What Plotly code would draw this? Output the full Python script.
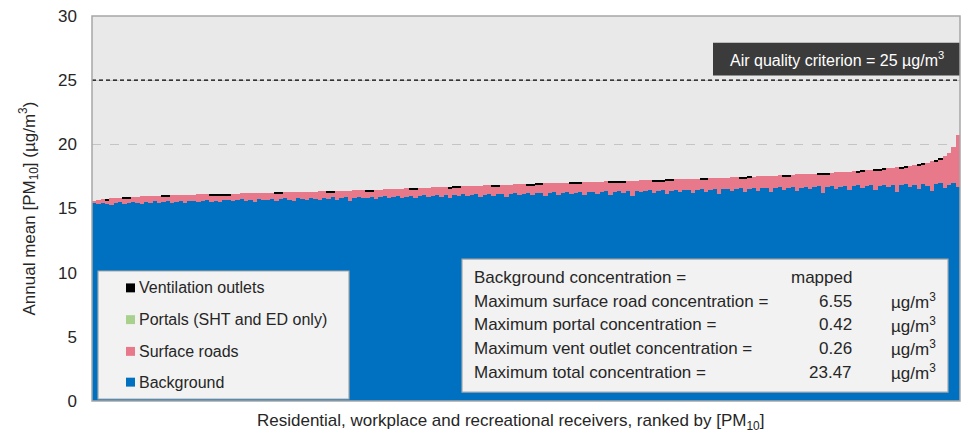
import plotly.graph_objects as go

# Ranked annual mean PM10 at each receiver (µg/m3), lowest to highest
total_pm10 = [
    15.62, 15.67, 15.72, 15.76, 15.79, 15.82, 15.85, 15.87, 15.89, 15.91,
    15.92, 15.94, 15.95, 15.97, 15.98, 15.99, 16.00, 16.01, 16.02, 16.03,
    16.04, 16.05, 16.07, 16.08, 16.10, 16.10, 16.11, 16.12, 16.13, 16.13,
    16.14, 16.15, 16.16, 16.16, 16.17, 16.18, 16.19, 16.19, 16.20, 16.21,
    16.22, 16.23, 16.24, 16.25, 16.25, 16.26, 16.27, 16.28, 16.29, 16.30,
    16.31, 16.32, 16.33, 16.34, 16.35, 16.36, 16.37, 16.38, 16.39, 16.40,
    16.41, 16.42, 16.43, 16.44, 16.45, 16.47, 16.48, 16.49, 16.51, 16.52,
    16.53, 16.55, 16.56, 16.57, 16.59, 16.60, 16.61, 16.62, 16.64, 16.65,
    16.66, 16.68, 16.69, 16.70, 16.72, 16.73, 16.74, 16.76, 16.77, 16.78,
    16.80, 16.81, 16.82, 16.84, 16.85, 16.86, 16.87, 16.88, 16.90, 16.91,
    16.92, 16.93, 16.94, 16.95, 16.96, 16.98, 16.99, 17.00, 17.01, 17.02,
    17.03, 17.04, 17.05, 17.06, 17.07, 17.08, 17.09, 17.10, 17.11, 17.12,
    17.13, 17.14, 17.15, 17.16, 17.17, 17.18, 17.19, 17.20, 17.21, 17.22,
    17.23, 17.24, 17.25, 17.26, 17.27, 17.28, 17.29, 17.30, 17.31, 17.32,
    17.33, 17.35, 17.36, 17.37, 17.39, 17.40, 17.41, 17.43, 17.44, 17.45,
    17.47, 17.48, 17.49, 17.51, 17.52, 17.54, 17.55, 17.57, 17.58, 17.60,
    17.61, 17.63, 17.65, 17.66, 17.68, 17.70, 17.72, 17.74, 17.76, 17.78,
    17.80, 17.82, 17.84, 17.86, 17.88, 17.90, 17.93, 17.95, 17.98, 18.01,
    18.04, 18.07, 18.10, 18.13, 18.16, 18.20, 18.24, 18.28, 18.33, 18.38,
    18.44, 18.50, 18.58, 18.67, 18.78, 18.92, 19.10, 19.35, 19.80, 20.70,
]

# Mapped background contribution at each receiver
background = [
    15.40, 15.35, 15.45, 15.38, 15.30, 15.42, 15.47, 15.36, 15.44, 15.50,
    15.41, 15.33, 15.52, 15.46, 15.55, 15.39, 15.48, 15.58, 15.45, 15.51,
    15.60, 15.43, 15.56, 15.62, 15.49, 15.57, 15.66, 15.52, 15.61, 15.47,
    15.64, 15.70, 15.55, 15.63, 15.72, 15.58, 15.67, 15.50, 15.74, 15.65,
    15.69, 15.76, 15.60, 15.71, 15.78, 15.66, 15.58, 15.80, 15.73, 15.68,
    15.82, 15.75, 15.64, 15.84, 15.77, 15.88, 15.70, 15.81, 15.86, 15.62,
    15.85, 15.90, 15.78, 15.83, 15.92, 15.74, 15.88, 15.95, 15.80, 15.91,
    15.97, 15.84, 15.93, 16.00, 15.79, 15.96, 16.02, 15.88, 15.99, 16.05,
    15.90, 16.03, 15.85, 16.07, 15.98, 16.10, 15.94, 16.06, 16.12, 15.89,
    16.08, 16.14, 15.97, 16.11, 16.16, 15.92, 16.13, 16.18, 16.02, 16.15,
    16.20, 16.05, 16.17, 16.22, 15.96, 16.19, 16.25, 16.08, 16.21, 16.27,
    16.10, 16.23, 16.30, 16.04, 16.26, 16.32, 16.14, 16.28, 16.35, 16.07,
    16.30, 16.37, 16.18, 16.33, 15.98, 16.39, 16.25, 16.35, 16.42, 16.20,
    16.38, 16.44, 16.12, 16.40, 16.46, 16.28, 16.43, 16.48, 16.22, 16.45,
    16.50, 16.32, 16.47, 16.53, 16.15, 16.49, 16.55, 16.36, 16.52, 16.58,
    16.30, 16.54, 16.60, 16.40, 16.56, 16.62, 16.25, 16.58, 16.64, 16.45,
    16.60, 16.67, 16.35, 16.62, 16.70, 16.50, 16.65, 16.72, 16.20, 16.68,
    16.75, 16.55, 16.70, 16.78, 16.42, 16.73, 16.80, 16.60, 16.76, 16.83,
    16.48, 16.78, 16.86, 16.65, 16.81, 16.30, 16.84, 16.90, 16.70, 16.87,
    16.55, 16.92, 16.75, 16.40, 16.88, 16.95, 16.60, 16.85, 16.98, 16.70,
]

# Ventilation outlet contribution
vent_outlets = [
    0, 0, 0, 0.10, 0, 0, 0, 0.10, 0.10, 0,
    0, 0, 0, 0, 0, 0, 0.10, 0.10, 0, 0,
    0, 0, 0, 0, 0, 0, 0, 0.10, 0.10, 0.10,
    0.10, 0.10, 0, 0, 0, 0, 0, 0, 0, 0,
    0, 0, 0.10, 0.10, 0, 0, 0, 0, 0, 0,
    0, 0, 0, 0, 0.10, 0.10, 0, 0, 0, 0,
    0, 0, 0, 0.10, 0.10, 0, 0, 0, 0, 0,
    0, 0, 0, 0.10, 0.10, 0, 0, 0, 0, 0,
    0, 0, 0.10, 0.10, 0.10, 0, 0, 0, 0, 0,
    0, 0, 0.10, 0.10, 0, 0, 0, 0, 0, 0,
    0.10, 0.10, 0.10, 0.10, 0, 0, 0, 0, 0, 0,
    0.10, 0.10, 0.10, 0, 0, 0, 0, 0, 0, 0.10,
    0.10, 0.10, 0.10, 0, 0, 0, 0, 0, 0, 0.10,
    0.10, 0.10, 0.10, 0.10, 0, 0, 0, 0, 0, 0,
    0.10, 0.10, 0, 0, 0, 0, 0, 0, 0, 0.10,
    0.10, 0.10, 0, 0, 0, 0, 0, 0, 0, 0.10,
    0.10, 0, 0, 0, 0, 0, 0, 0.10, 0.10, 0.10,
    0, 0, 0, 0, 0, 0, 0.10, 0.10, 0, 0,
    0.10, 0.10, 0.10, 0, 0, 0, 0.10, 0.10, 0, 0,
    0.10, 0.10, 0, 0, 0.10, 0.10, 0, 0, 0, 0,
]

# Tunnel portal contribution (SHT and ED only)
portals = [
    0, 0, 0, 0, 0, 0, 0, 0, 0, 0,
    0, 0, 0, 0, 0, 0, 0, 0, 0, 0,
    0, 0, 0, 0, 0, 0, 0, 0, 0, 0,
    0, 0, 0, 0, 0, 0, 0, 0, 0, 0,
    0, 0, 0, 0, 0, 0, 0, 0, 0, 0,
    0, 0, 0, 0, 0, 0, 0, 0, 0, 0,
    0, 0, 0, 0, 0, 0, 0, 0, 0, 0,
    0, 0, 0, 0, 0, 0, 0, 0, 0, 0,
    0, 0, 0, 0, 0, 0, 0, 0, 0, 0,
    0, 0, 0, 0, 0, 0, 0, 0, 0, 0,
    0, 0, 0, 0, 0, 0, 0, 0, 0, 0,
    0, 0, 0, 0, 0, 0, 0, 0, 0, 0,
    0, 0, 0, 0, 0, 0, 0, 0, 0, 0,
    0, 0, 0, 0, 0, 0, 0, 0, 0, 0,
    0, 0, 0, 0, 0, 0, 0, 0, 0, 0,
    0, 0, 0, 0, 0, 0, 0, 0, 0, 0,
    0, 0, 0, 0, 0, 0, 0, 0, 0, 0,
    0, 0, 0, 0, 0, 0, 0, 0, 0, 0,
    0, 0, 0, 0, 0, 0, 0, 0, 0, 0,
    0, 0, 0, 0, 0, 0, 0, 0, 0, 0,
]

criterion = 25

legend_labels = ["Ventilation outlets", "Portals (SHT and ED only)", "Surface roads", "Background"]

stats_labels = [
    "Background concentration =",
    "Maximum surface road concentration =",
    "Maximum portal concentration =",
    "Maximum vent outlet concentration =",
    "Maximum total concentration =",
]
stats_values = ["mapped", "6.55", "0.42", "0.26", "23.47"]
stats_units = ["", "µg/m<sup>3</sup>", "µg/m<sup>3</sup>", "µg/m<sup>3</sup>", "µg/m<sup>3</sup>"]

# Surface road share is the remainder of each receiver's total
surface_roads = [round(t - b - p - v, 3)
                 for t, b, p, v in zip(total_pm10, background, portals, vent_outlets)]
receivers = list(range(1, len(total_pm10) + 1))

BLUE = "#0070c0"
PINK = "#e8798b"
GREEN = "#a9d18e"
BLACK = "#000000"
FONT = "Arial, Liberation Sans, sans-serif"
TXT = "#262626"

W, H = 967, 439
L, R, T, B = 92, 7, 13, 38
PW, PH = W - L - R, H - T - B


def px(xpix):
    return (xpix - L) / PW


def py(ypix):
    return (H - B - ypix) / PH


fig = go.Figure()
for name, vals, col in [
    ("Background", background, BLUE),
    ("Portals (SHT and ED only)", portals, GREEN),
    ("Surface roads", surface_roads, PINK),
    ("Ventilation outlets", vent_outlets, BLACK),
]:
    fig.add_trace(go.Bar(x=receivers, y=vals, name=name, marker=dict(color=col, line=dict(width=0)),
                         showlegend=False))

shapes = []
annotations = []

# Air quality criterion line and its label
shapes.append(dict(type="line", xref="paper", yref="y", x0=0, x1=1, y0=criterion, y1=criterion,
                   line=dict(color="#000000", width=1.3, dash="4px,3px"), layer="above"))
shapes.append(dict(type="rect", xref="paper", yref="paper", x0=px(713), x1=1, y0=py(73), y1=py(40),
                   fillcolor="#3b3b3b", line=dict(width=0), layer="above"))
annotations.append(dict(xref="paper", yref="paper", x=(px(713) + 1) / 2, y=py(56.5),
                        text=f"Air quality criterion = {criterion} µg/m<sup>3</sup>",
                        showarrow=False, font=dict(family=FONT, size=16, color="#ffffff"),
                        xanchor="center", yanchor="middle"))

# Plot-area border
shapes.append(dict(type="rect", xref="paper", yref="paper", x0=0, x1=1, y0=0, y1=1,
                   line=dict(color="#a6a6a6", width=1.5), layer="above"))

# Legend box
shapes.append(dict(type="rect", xref="paper", yref="paper", x0=px(98), x1=px(349), y0=py(399), y1=py(270),
                   fillcolor="#f2f2f2", line=dict(color="#a6a6a6", width=1.2), layer="above"))
legend_colors = [BLACK, GREEN, PINK, BLUE]
legend_rows = [287, 319, 351, 382]
for lab, col, yr in zip(legend_labels, legend_colors, legend_rows):
    shapes.append(dict(type="rect", xref="paper", yref="paper", x0=px(126), x1=px(135),
                       y0=py(yr + 4.5), y1=py(yr - 4.5), fillcolor=col, line=dict(width=0), layer="above"))
    annotations.append(dict(xref="paper", yref="paper", x=px(137), y=py(yr), text=lab, showarrow=False,
                            xanchor="left", yanchor="middle", font=dict(family=FONT, size=16, color=TXT)))

# Summary statistics box
shapes.append(dict(type="rect", xref="paper", yref="paper", x0=px(462), x1=px(948), y0=py(392), y1=py(258),
                   fillcolor="#f2f2f2", line=dict(color="#a6a6a6", width=1.2), layer="above"))
stats_rows = [277, 300.5, 324, 348, 372]
for lab, val, unit, yr in zip(stats_labels, stats_values, stats_units, stats_rows):
    annotations.append(dict(xref="paper", yref="paper", x=px(472), y=py(yr), text=lab, showarrow=False,
                            xanchor="left", yanchor="middle", font=dict(family=FONT, size=17, color=TXT)))
    annotations.append(dict(xref="paper", yref="paper", x=px(854), y=py(yr), text=val, showarrow=False,
                            xanchor="right", yanchor="middle", font=dict(family=FONT, size=17, color=TXT)))
    if unit:
        annotations.append(dict(xref="paper", yref="paper", x=px(889), y=py(yr), text=unit, showarrow=False,
                                xanchor="left", yanchor="middle", font=dict(family=FONT, size=17, color=TXT)))

# Axis titles
annotations.append(dict(xref="paper", yref="paper", x=px(29), y=0.5, textangle=-90,
                        text="Annual mean [PM<sub>10</sub>] (µg/m<sup>3</sup>)", showarrow=False,
                        xanchor="center", yanchor="middle", font=dict(family=FONT, size=17, color=TXT)))
annotations.append(dict(xref="paper", yref="paper", x=px(510), y=py(422),
                        text="Residential, workplace and recreational receivers, ranked by [PM<sub>10</sub>]",
                        showarrow=False, xanchor="center", yanchor="middle",
                        font=dict(family=FONT, size=17, color=TXT)))

fig.update_layout(
    width=W, height=H,
    margin=dict(l=L, r=R, t=T, b=B, pad=0),
    barmode="stack", bargap=0,
    paper_bgcolor="#ffffff", plot_bgcolor="#e9e9e9",
    font=dict(family=FONT, size=17, color=TXT),
    shapes=shapes, annotations=annotations,
    showlegend=False,
)
fig.update_xaxes(range=[0.5, len(receivers) + 0.5], showticklabels=False, showgrid=False,
                 zeroline=False, ticks="", fixedrange=True)
fig.update_yaxes(range=[0, 30], dtick=5, showgrid=True, gridcolor="#c4c4c4", griddash="dash",
                 gridwidth=1, zeroline=False, ticks="", ticklabelstandoff=14,
                 tickfont=dict(family=FONT, size=17, color=TXT), fixedrange=True)

fig.write_html("out.html")
